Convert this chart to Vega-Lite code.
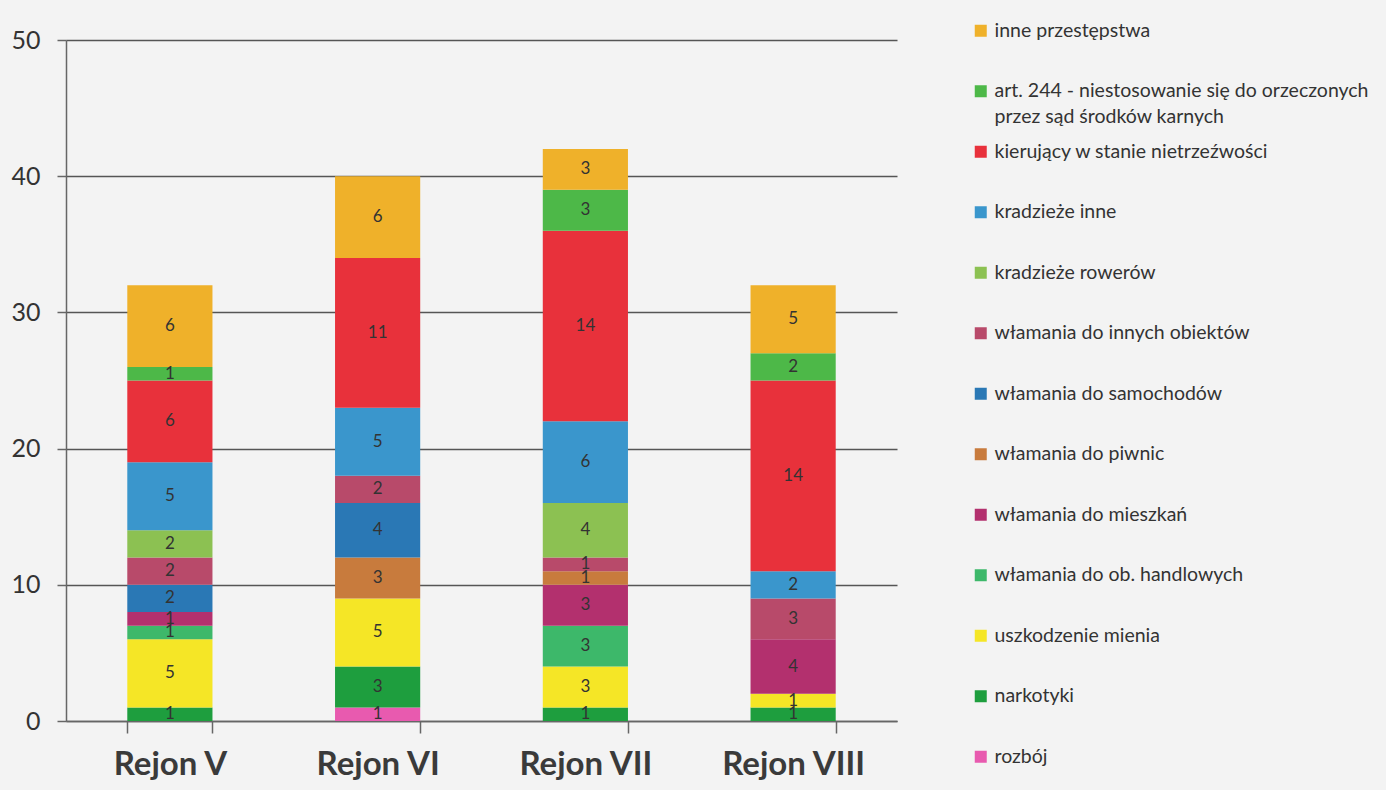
{
  "$schema": "https://vega.github.io/schema/vega-lite/v6.json",
  "width": 831,
  "height": 681,
  "autosize": {"type": "none"},
  "padding": {"left": 66, "top": 40, "right": 489, "bottom": 69},
  "background": "#f3f3f3",
  "config": {
    "view": {"stroke": null},
    "font": "Lato",
    "axis": {"labelFont": "Lato", "titleFont": "Lato"},
    "legend": {"labelFont": "Lato"}
  },
  "data": {
    "values": [
      {"rejon": "Rejon V", "kategoria": "narkotyki", "n": 1},
      {"rejon": "Rejon V", "kategoria": "uszkodzenie mienia", "n": 5},
      {"rejon": "Rejon V", "kategoria": "włamania do ob. handlowych", "n": 1},
      {"rejon": "Rejon V", "kategoria": "włamania do mieszkań", "n": 1},
      {"rejon": "Rejon V", "kategoria": "włamania do samochodów", "n": 2},
      {"rejon": "Rejon V", "kategoria": "włamania do innych obiektów", "n": 2},
      {"rejon": "Rejon V", "kategoria": "kradzieże rowerów", "n": 2},
      {"rejon": "Rejon V", "kategoria": "kradzieże inne", "n": 5},
      {"rejon": "Rejon V", "kategoria": "kierujący w stanie nietrzeźwości", "n": 6},
      {"rejon": "Rejon V", "kategoria": "art. 244 - niestosowanie się do orzeczonych przez sąd środków karnych", "n": 1},
      {"rejon": "Rejon V", "kategoria": "inne przestępstwa", "n": 6},
      {"rejon": "Rejon VI", "kategoria": "rozbój", "n": 1},
      {"rejon": "Rejon VI", "kategoria": "narkotyki", "n": 3},
      {"rejon": "Rejon VI", "kategoria": "uszkodzenie mienia", "n": 5},
      {"rejon": "Rejon VI", "kategoria": "włamania do piwnic", "n": 3},
      {"rejon": "Rejon VI", "kategoria": "włamania do samochodów", "n": 4},
      {"rejon": "Rejon VI", "kategoria": "włamania do innych obiektów", "n": 2},
      {"rejon": "Rejon VI", "kategoria": "kradzieże inne", "n": 5},
      {"rejon": "Rejon VI", "kategoria": "kierujący w stanie nietrzeźwości", "n": 11},
      {"rejon": "Rejon VI", "kategoria": "inne przestępstwa", "n": 6},
      {"rejon": "Rejon VII", "kategoria": "narkotyki", "n": 1},
      {"rejon": "Rejon VII", "kategoria": "uszkodzenie mienia", "n": 3},
      {"rejon": "Rejon VII", "kategoria": "włamania do ob. handlowych", "n": 3},
      {"rejon": "Rejon VII", "kategoria": "włamania do mieszkań", "n": 3},
      {"rejon": "Rejon VII", "kategoria": "włamania do piwnic", "n": 1},
      {"rejon": "Rejon VII", "kategoria": "włamania do innych obiektów", "n": 1},
      {"rejon": "Rejon VII", "kategoria": "kradzieże rowerów", "n": 4},
      {"rejon": "Rejon VII", "kategoria": "kradzieże inne", "n": 6},
      {"rejon": "Rejon VII", "kategoria": "kierujący w stanie nietrzeźwości", "n": 14},
      {"rejon": "Rejon VII", "kategoria": "art. 244 - niestosowanie się do orzeczonych przez sąd środków karnych", "n": 3},
      {"rejon": "Rejon VII", "kategoria": "inne przestępstwa", "n": 3},
      {"rejon": "Rejon VIII", "kategoria": "narkotyki", "n": 1},
      {"rejon": "Rejon VIII", "kategoria": "uszkodzenie mienia", "n": 1},
      {"rejon": "Rejon VIII", "kategoria": "włamania do mieszkań", "n": 4},
      {"rejon": "Rejon VIII", "kategoria": "włamania do innych obiektów", "n": 3},
      {"rejon": "Rejon VIII", "kategoria": "kradzieże inne", "n": 2},
      {"rejon": "Rejon VIII", "kategoria": "kierujący w stanie nietrzeźwości", "n": 14},
      {"rejon": "Rejon VIII", "kategoria": "art. 244 - niestosowanie się do orzeczonych przez sąd środków karnych", "n": 2},
      {"rejon": "Rejon VIII", "kategoria": "inne przestępstwa", "n": 5}
    ]
  },
  "transform": [
    {"calculate": "indexof(['inne przestępstwa','art. 244 - niestosowanie się do orzeczonych przez sąd środków karnych','kierujący w stanie nietrzeźwości','kradzieże inne','kradzieże rowerów','włamania do innych obiektów','włamania do samochodów','włamania do piwnic','włamania do mieszkań','włamania do ob. handlowych','uszkodzenie mienia','narkotyki','rozbój'], datum.kategoria)", "as": "ord"},
    {"stack": "n", "groupby": ["rejon"], "sort": [{"field": "ord", "order": "descending"}], "as": ["y0", "y1"]},
    {"calculate": "(datum.y0 + datum.y1) / 2", "as": "ymid"}
  ],
  "encoding": {
    "x": {
      "field": "rejon",
      "type": "nominal",
      "sort": ["Rejon V", "Rejon VI", "Rejon VII", "Rejon VIII"],
      "scale": {"paddingInner": 0.59, "paddingOuter": 0.295},
      "axis": {
        "title": null,
        "labelAngle": 0,
        "labelFontSize": 33,
        "labelFontWeight": "bold",
        "labelColor": "#3a3a3a",
        "labelPadding": 15,
        "tickSize": 12,
        "tickBand": "extent",
        "tickColor": "#666",
        "domainColor": "#666",
        "domainWidth": 1.5,
        "tickWidth": 1.5
      }
    }
  },
  "layer": [
    {
      "mark": {"type": "bar"},
      "encoding": {
        "y": {
          "field": "y0",
          "type": "quantitative",
          "scale": {"domain": [0, 50]},
          "axis": {
            "title": null,
            "values": [0, 10, 20, 30, 40, 50],
            "labelFontSize": 25,
            "labelColor": "#333",
            "labelPadding": 17,
            "tickSize": 9,
            "tickColor": "#666",
            "tickWidth": 1.5,
            "domainColor": "#666",
            "domainWidth": 1.5,
            "gridColor": "#555",
            "gridWidth": 1.5,
            "gridOpacity": 1
          }
        },
        "y2": {"field": "y1"},
        "color": {
          "field": "kategoria",
          "type": "nominal",
          "scale": {
            "domain": ["inne przestępstwa", "art. 244 - niestosowanie się do orzeczonych przez sąd środków karnych", "kierujący w stanie nietrzeźwości", "kradzieże inne", "kradzieże rowerów", "włamania do innych obiektów", "włamania do samochodów", "włamania do piwnic", "włamania do mieszkań", "włamania do ob. handlowych", "uszkodzenie mienia", "narkotyki", "rozbój"],
            "range": ["#EFB12A", "#4DB848", "#E8313B", "#3A96CC", "#8CC152", "#B84A6A", "#2A78B5", "#C87B3D", "#B3306E", "#3DB86A", "#F5E626", "#1E9E3E", "#E85AAF"]
          },
          "legend": {
            "title": null,
            "orient": "none",
            "legendX": 905,
            "legendY": -19,
            "padding": 0,
            "symbolType": "square",
            "symbolSize": 144,
            "symbolStrokeWidth": 0,
            "symbolOpacity": 1,
            "labelFontSize": 19.5,
            "labelColor": "#333",
            "labelOffset": 4,
            "labelLimit": 500,
            "gridAlign": "all",
            "rowPadding": 13.5,
            "labelExpr": "datum.label == 'art. 244 - niestosowanie się do orzeczonych przez sąd środków karnych' ? ['art. 244 - niestosowanie się do orzeczonych', 'przez sąd środków karnych'] : datum.label",
            "encode": {"labels": {"update": {"lineHeight": {"value": 26}}}}
          }
        }
      }
    },
    {
      "mark": {"type": "text", "fontSize": 17, "color": "#333", "font": "Lato", "baseline": "middle"},
      "encoding": {
        "y": {"field": "ymid", "type": "quantitative"},
        "text": {"field": "n", "type": "quantitative"}
      }
    }
  ]
}
